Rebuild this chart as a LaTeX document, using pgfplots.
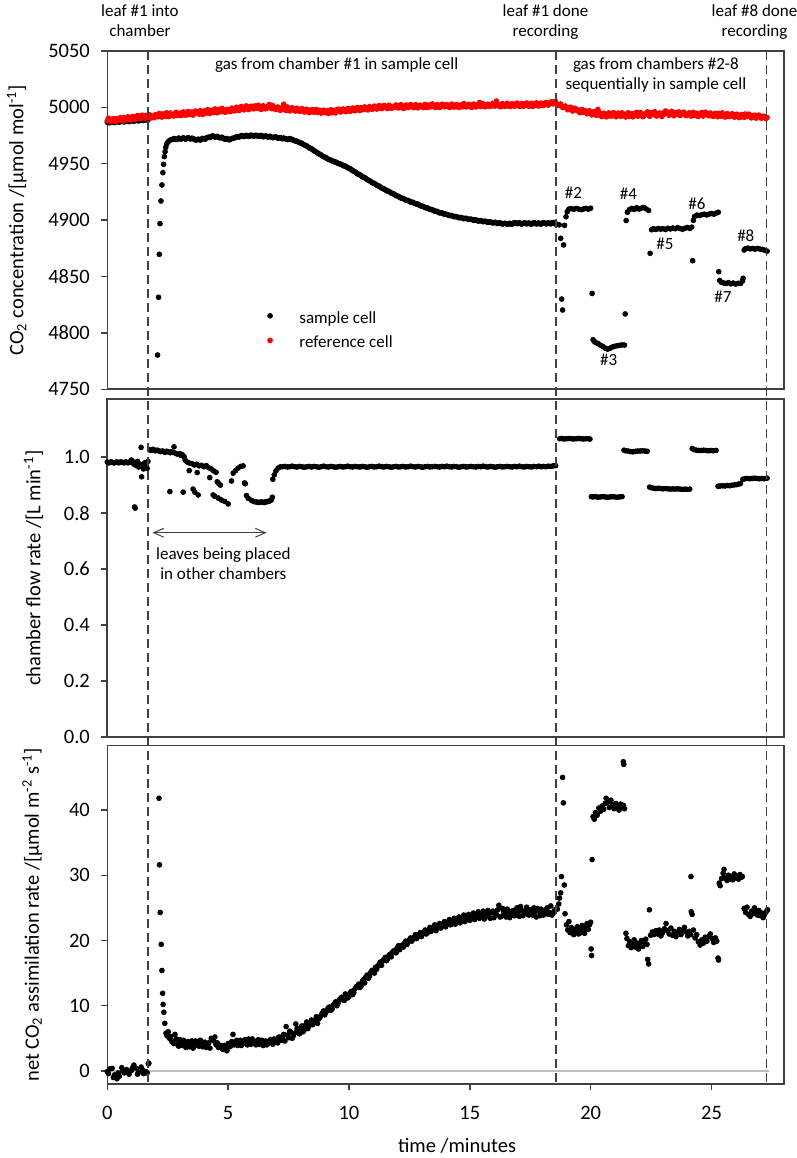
\documentclass[border=0pt]{standalone}
\usepackage{fontspec}
\setmainfont{Carlito}
\usepackage{pgfplots}
\usepackage{pgfplotstable}
\pgfplotsset{compat=1.18}
\usetikzlibrary{arrows.meta,calc}
\definecolor{axgray}{RGB}{64,64,64}
\definecolor{refred}{RGB}{255,0,0}
\newcommand{\axfont}{\fontsize{10.25}{12}\selectfont}
\newcommand{\anfont}{\fontsize{8.5}{10}\selectfont}

% reference cell CO2
\pgfplotstableread[row sep=\\]{t v\\
0.0 4988.2\\0.1 4989.6\\0.2 4987.9\\0.3 4988.8\\0.4 4990.1\\0.5 4988.6\\0.6 4989.3\\0.7 4990.8\\0.8 4989.0\\0.9 4990.4\\
1.0 4989.6\\1.1 4991.5\\1.2 4990.2\\1.3 4992.3\\1.4 4990.8\\1.5 4991.1\\1.6 4992.9\\1.7 4991.0\\1.8 4990.6\\1.9 4992.4\\
2.0 4993.5\\2.1 4991.7\\2.2 4992.6\\2.3 4994.2\\2.4 4992.0\\2.5 4993.4\\2.6 4995.0\\2.7 4993.1\\2.8 4994.6\\2.9 4992.8\\
3.0 4994.9\\3.1 4993.3\\3.2 4995.6\\3.3 4994.1\\3.4 4993.6\\3.5 4995.9\\3.6 4994.5\\3.7 4996.2\\3.8 4994.0\\3.9 4995.4\\
4.0 4996.8\\4.1 4994.9\\4.2 4996.0\\4.3 4997.4\\4.4 4995.5\\4.5 4996.6\\4.6 4998.2\\4.7 4996.1\\4.8 4997.0\\4.9 4995.8\\
5.0 4997.9\\5.1 4996.4\\5.2 4998.6\\5.3 4997.3\\5.4 4999.4\\5.5 4998.0\\5.6 4999.8\\5.7 4998.4\\5.8 5000.6\\5.9 4998.9\\
6.0 5000.2\\6.1 5001.3\\6.2 4999.1\\6.3 5000.8\\6.4 4998.6\\6.5 5000.1\\6.6 4999.3\\6.7 5002.6\\6.8 4998.9\\6.9 4999.8\\
7.0 4998.4\\7.1 4999.6\\7.2 4997.9\\7.3 5002.8\\7.4 4997.2\\7.5 4999.1\\7.6 4997.7\\7.7 4998.5\\7.8 4996.8\\7.9 4998.0\\
8.0 4996.9\\8.1 4998.3\\8.2 4996.4\\8.3 4997.5\\8.4 4995.8\\8.5 4997.9\\8.6 4996.2\\8.7 4995.5\\8.8 4997.3\\8.9 4996.0\\
9.0 4995.4\\9.1 4997.0\\9.2 4996.3\\9.3 4995.2\\9.4 4997.6\\9.5 4996.5\\9.6 4998.1\\9.7 4996.9\\9.8 4997.8\\9.9 4996.4\\
10.0 4998.6\\10.1 4997.1\\10.2 4999.0\\10.3 4997.8\\10.4 4998.3\\10.5 4999.7\\10.6 4998.0\\10.7 4999.3\\10.8 4997.9\\10.9 4999.9\\
11.0 4998.7\\11.1 5000.4\\11.2 4999.1\\11.3 5001.0\\11.4 4999.6\\11.5 5000.3\\11.6 4998.9\\11.7 5000.9\\11.8 4999.8\\11.9 5001.2\\
12.0 4999.8\\12.1 5001.5\\12.2 5000.2\\12.3 4999.5\\12.4 5001.8\\12.5 5000.6\\12.6 5001.1\\12.7 4999.9\\12.8 5002.0\\12.9 5000.4\\
13.0 5001.3\\13.1 4999.9\\13.2 5000.8\\13.3 5002.1\\13.4 5000.5\\13.5 5001.6\\13.6 5000.0\\13.7 5001.9\\13.8 5000.7\\13.9 5002.3\\
14.0 5000.9\\14.1 5001.7\\14.2 5000.2\\14.3 5002.0\\14.4 5001.1\\14.5 5000.4\\14.6 5001.8\\14.7 5000.6\\14.8 5002.4\\14.9 5001.0\\
15.0 5001.6\\15.1 5000.3\\15.2 5002.2\\15.3 5001.0\\15.4 5004.3\\15.5 5001.5\\15.6 5000.7\\15.7 5002.1\\15.8 5001.2\\15.9 5002.6\\
16.0 5001.4\\16.1 5005.6\\16.2 5002.0\\16.3 5000.9\\16.4 5002.5\\16.5 5001.3\\16.6 5002.8\\16.7 5001.0\\16.8 5002.2\\16.9 5003.1\\
17.0 5001.5\\17.1 5002.7\\17.2 5001.0\\17.3 5003.0\\17.4 5001.8\\17.5 5002.4\\17.6 5000.9\\17.7 5002.9\\17.8 5001.6\\17.9 5003.4\\
18.0 5002.1\\18.1 5003.6\\18.2 5002.4\\18.3 5004.0\\18.4 5005.0\\18.5 5004.5\\18.6 5002.6\\18.7 5001.8\\18.8 5001.0\\18.9 5000.2\\
19.0 4999.5\\19.1 4998.6\\19.2 4999.9\\19.3 4997.4\\19.4 4998.0\\19.5 4996.5\\19.6 4997.6\\19.7 4995.7\\19.8 4996.9\\19.9 4995.1\\
20.0 4994.6\\20.1 4995.8\\20.2 4993.4\\20.3 4998.2\\20.4 4994.2\\20.5 4992.6\\20.6 4993.9\\20.7 4992.1\\20.8 4994.5\\20.9 4993.0\\
21.0 4994.0\\21.1 4992.4\\21.2 4993.6\\21.3 4995.1\\21.4 4992.8\\21.5 4993.9\\21.6 4992.0\\21.7 4994.3\\21.8 4993.2\\21.9 4995.6\\
22.0 4993.4\\22.1 4994.6\\22.2 4992.5\\22.3 4994.9\\22.4 4993.0\\22.5 4995.3\\22.6 4993.8\\22.7 4992.7\\22.8 4994.4\\22.9 4993.1\\
23.0 4995.0\\23.1 4996.8\\23.2 4994.8\\23.3 4995.2\\23.4 4993.9\\23.5 4995.4\\23.6 4994.1\\23.7 4992.9\\23.8 4995.2\\23.9 4994.0\\
24.0 4993.5\\24.1 4995.1\\24.2 4994.2\\24.3 4992.8\\24.4 4994.7\\24.5 4993.2\\24.6 4995.5\\24.7 4993.7\\24.8 4994.4\\24.9 4992.6\\
25.0 4994.0\\25.1 4992.5\\25.2 4993.6\\25.3 4994.8\\25.4 4992.2\\25.5 4993.4\\25.6 4991.8\\25.7 4993.9\\25.8 4992.6\\25.9 4993.7\\
26.0 4992.1\\26.1 4993.3\\26.2 4991.6\\26.3 4992.9\\26.4 4994.1\\26.5 4991.9\\26.6 4992.7\\26.7 4991.3\\26.8 4993.0\\26.9 4991.8\\
27.0 4992.4\\27.1 4990.8\\27.2 4991.6\\27.3 4991.0\\
0.05 4990.3\\0.15 4987.4\\0.25 4989.9\\0.35 4987.6\\0.45 4989.2\\0.55 4991.0\\0.65 4988.1\\0.75 4989.7\\0.85 4991.6\\0.95 4988.8\\
1.05 4991.9\\1.15 4989.4\\1.25 4992.7\\1.35 4990.0\\1.45 4993.1\\1.55 4990.3\\1.65 4991.8\\1.75 4993.4\\1.85 4991.2\\1.95 4990.9\\
2.05 4992.2\\2.15 4994.6\\2.25 4991.4\\2.35 4993.0\\2.45 4995.2\\2.55 4991.9\\2.65 4993.8\\2.75 4992.4\\2.85 4995.6\\2.95 4993.7\\
3.05 4992.8\\3.15 4995.9\\3.25 4993.0\\3.35 4996.3\\3.45 4994.8\\3.55 4993.2\\3.65 4996.7\\3.75 4994.6\\3.85 4997.0\\3.95 4993.8\\
4.05 4995.6\\4.15 4998.0\\4.25 4994.6\\4.35 4996.3\\4.45 4998.6\\4.55 4995.2\\4.65 4997.3\\4.75 4999.1\\4.85 4995.9\\4.95 4998.2\\
5.05 4996.5\\5.15 4999.3\\5.25 4996.9\\5.35 5000.1\\5.45 4997.2\\5.55 5000.8\\5.65 4997.8\\5.75 5001.3\\5.85 4998.1\\5.95 5001.0\\
6.05 4998.7\\6.15 5000.5\\6.25 5001.9\\6.35 4998.3\\6.45 5001.4\\6.55 4998.8\\6.65 5000.9\\6.75 4999.6\\6.85 5001.5\\6.95 4998.3\\
7.05 5000.3\\7.15 4997.4\\7.25 4999.8\\7.35 4998.1\\7.45 5000.4\\7.55 4996.9\\7.65 4999.6\\7.75 4997.1\\7.85 4999.2\\7.95 4996.5\\
8.05 4998.9\\8.15 4995.9\\8.25 4998.4\\8.35 4995.3\\8.45 4997.8\\8.55 4995.7\\8.65 4998.1\\8.75 4996.9\\8.85 4994.9\\8.95 4997.5\\
9.05 4996.1\\9.15 4994.6\\9.25 4997.9\\9.35 4996.7\\9.45 4995.1\\9.55 4998.4\\9.65 4995.9\\9.75 4998.6\\9.85 4996.2\\9.95 4998.9\\
10.05 4996.6\\10.15 4999.4\\10.25 4997.0\\10.35 4999.9\\10.45 4997.2\\10.55 4998.8\\10.65 5000.4\\10.75 4997.9\\10.85 5000.6\\10.95 4998.4\\
11.05 5001.1\\11.15 4998.5\\11.25 5001.6\\11.35 4998.9\\11.45 5001.7\\11.55 4999.4\\11.65 5001.9\\11.75 4999.2\\11.85 5000.5\\11.95 5002.1\\
12.05 4999.6\\12.15 5002.4\\12.25 4999.1\\12.35 5002.0\\12.45 4999.9\\12.55 5002.5\\12.65 5000.0\\12.75 5002.3\\12.85 4999.6\\12.95 5001.9\\
13.05 5000.2\\13.15 5002.6\\13.25 4999.8\\13.35 5001.5\\13.45 5003.0\\13.55 5000.1\\13.65 5002.4\\13.75 4999.9\\13.85 5002.8\\13.95 5000.6\\
14.05 5002.5\\14.15 5000.0\\14.25 5002.9\\14.35 5000.3\\14.45 5002.6\\14.55 4999.9\\14.65 5002.2\\14.75 5003.3\\14.85 5000.5\\14.95 5002.7\\
15.05 5000.1\\15.15 5002.9\\15.25 5000.4\\15.35 5002.6\\15.45 5000.8\\15.55 5003.2\\15.65 5000.6\\15.75 5002.8\\15.85 5000.9\\15.95 5003.5\\
16.05 5001.2\\16.15 5003.0\\16.25 5000.6\\16.35 5003.4\\16.45 5001.0\\16.55 5003.6\\16.65 5000.8\\16.75 5003.3\\16.85 5001.1\\16.95 5003.8\\
17.05 5000.9\\17.15 5003.5\\17.25 5001.3\\17.35 5003.9\\17.45 5001.0\\17.55 5003.6\\17.65 5001.5\\17.75 5004.0\\17.85 5001.2\\17.95 5003.7\\
18.05 5001.8\\18.15 5004.3\\18.25 5002.0\\18.35 5004.6\\18.45 5003.1\\18.55 5005.2\\18.65 5001.9\\18.75 5003.0\\18.85 4999.8\\18.95 5001.2\\
19.05 4997.9\\19.15 5000.1\\19.25 4996.8\\19.35 4999.2\\19.45 4997.9\\19.55 4995.3\\19.65 4998.0\\19.75 4996.2\\19.85 4994.4\\19.95 4997.0\\
20.05 4993.3\\20.15 4996.2\\20.25 4992.9\\20.35 4995.6\\20.45 4991.9\\20.55 4994.8\\20.65 4991.6\\20.75 4995.1\\20.85 4992.3\\20.95 4995.4\\
21.05 4991.7\\21.15 4994.9\\21.25 4992.0\\21.35 4994.3\\21.45 4991.5\\21.55 4995.2\\21.65 4993.0\\21.75 4991.6\\21.85 4994.8\\21.95 4992.2\\
22.05 4995.5\\22.15 4991.8\\22.25 4993.9\\22.35 4996.0\\22.45 4992.1\\22.55 4994.2\\22.65 4996.1\\22.75 4992.4\\22.85 4995.0\\22.95 4992.0\\
23.05 4994.1\\23.15 4995.9\\23.25 4993.0\\23.35 4996.5\\23.45 4992.6\\23.55 4994.9\\23.65 4996.0\\23.75 4993.4\\23.85 4995.8\\23.95 4992.7\\
24.05 4994.9\\24.15 4992.3\\24.25 4995.6\\24.35 4993.5\\24.45 4991.9\\24.55 4994.4\\24.65 4992.3\\24.75 4995.7\\24.85 4993.1\\24.95 4995.0\\
25.05 4992.1\\25.15 4994.6\\25.25 4991.7\\25.35 4993.9\\25.45 4995.1\\25.55 4991.5\\25.65 4994.4\\25.75 4991.8\\25.85 4994.3\\25.95 4991.3\\
26.05 4993.9\\26.15 4990.9\\26.25 4993.6\\26.35 4991.1\\26.45 4992.6\\26.55 4994.0\\26.65 4990.7\\26.75 4992.9\\26.85 4990.5\\26.95 4993.1\\
27.05 4990.6\\27.15 4992.2\\27.25 4990.1\\
}\refcell

% sample cell CO2
\pgfplotstableread[row sep=\\]{t v\\
0.0 4986.8\\0.1 4986.3\\0.2 4987.0\\0.3 4986.5\\0.4 4987.2\\0.5 4986.9\\0.6 4987.5\\0.7 4987.1\\0.8 4987.8\\0.9 4987.4\\
1.0 4988.0\\1.1 4987.7\\1.2 4988.3\\1.3 4988.0\\1.4 4988.6\\1.5 4988.4\\1.6 4989.0\\1.68 4988.7\\
2.08 4780.4\\2.12 4831.6\\2.15 4869.7\\2.18 4896.9\\2.22 4917.0\\2.26 4931.2\\2.30 4942.1\\2.33 4949.5\\2.36 4956.3\\2.39 4960.7\\
2.42 4964.5\\2.46 4967.5\\2.51 4969.3\\2.56 4970.4\\2.62 4971.2\\2.7 4971.6\\
2.8 4972.0\\2.9 4971.8\\3.0 4972.3\\3.1 4972.5\\3.2 4972.2\\3.3 4972.6\\3.4 4972.4\\3.5 4972.7\\3.6 4971.8\\3.7 4971.2\\
3.8 4971.5\\3.9 4972.0\\4.0 4972.3\\4.1 4972.9\\4.2 4973.6\\4.3 4974.1\\4.4 4974.3\\4.5 4973.9\\4.6 4973.6\\4.7 4973.2\\
4.8 4972.5\\4.9 4972.0\\5.0 4971.6\\5.1 4971.9\\5.2 4972.6\\5.3 4973.4\\5.4 4974.0\\5.5 4974.4\\5.6 4974.7\\5.7 4974.5\\
5.8 4974.8\\5.9 4974.6\\6.0 4975.0\\6.1 4974.7\\6.2 4974.9\\6.3 4974.5\\6.4 4974.8\\6.5 4974.3\\6.6 4974.1\\6.7 4974.4\\
6.8 4973.6\\6.9 4973.3\\7.0 4973.5\\7.1 4972.9\\7.2 4972.6\\7.3 4972.8\\7.4 4972.1\\7.5 4971.7\\7.6 4972.0\\7.7 4971.0\\
7.8 4970.2\\7.9 4969.4\\8.0 4968.5\\8.1 4967.4\\8.2 4966.3\\8.3 4965.0\\8.4 4963.8\\8.5 4962.4\\8.6 4961.0\\8.7 4959.6\\
8.8 4958.3\\8.9 4957.0\\9.0 4955.9\\9.1 4954.6\\9.2 4953.5\\9.3 4952.6\\9.4 4951.8\\9.5 4951.0\\9.6 4950.0\\9.7 4949.2\\
9.8 4948.1\\9.9 4947.2\\10.0 4946.0\\10.1 4944.8\\10.2 4943.4\\10.3 4942.0\\10.4 4940.6\\10.5 4939.5\\10.6 4938.0\\10.7 4936.9\\
10.8 4935.5\\10.9 4934.2\\11.0 4932.9\\11.1 4931.8\\11.2 4930.5\\11.3 4929.4\\11.4 4928.0\\11.5 4927.0\\11.6 4925.8\\11.7 4924.9\\
11.8 4923.6\\11.9 4922.5\\12.0 4921.4\\12.1 4920.3\\12.2 4919.5\\12.3 4918.4\\12.4 4917.6\\12.5 4916.7\\12.6 4916.0\\12.7 4915.1\\
12.8 4914.4\\12.9 4913.5\\13.0 4912.6\\13.1 4911.8\\13.2 4911.0\\13.3 4910.1\\13.4 4909.4\\13.5 4908.5\\13.6 4907.9\\13.7 4907.0\\
13.8 4906.6\\13.9 4905.8\\14.0 4905.3\\14.1 4904.6\\14.2 4904.2\\14.3 4903.5\\14.4 4903.2\\14.5 4902.6\\14.6 4902.3\\14.7 4901.8\\
14.8 4901.6\\14.9 4901.1\\15.0 4900.8\\15.1 4900.4\\15.2 4900.2\\15.3 4899.7\\15.4 4899.5\\15.5 4899.1\\15.6 4899.0\\15.7 4898.5\\
15.8 4898.4\\15.9 4898.0\\16.0 4897.8\\16.1 4897.5\\16.2 4897.3\\16.3 4897.0\\16.4 4896.8\\16.5 4896.9\\16.6 4896.5\\16.7 4896.7\\
16.8 4897.3\\16.9 4897.6\\17.0 4897.2\\17.1 4896.8\\17.2 4897.1\\17.3 4897.5\\17.4 4897.0\\17.5 4896.7\\17.6 4897.2\\17.7 4897.4\\
17.8 4897.0\\17.9 4896.8\\18.0 4897.3\\18.1 4897.5\\18.2 4896.9\\18.3 4897.2\\18.4 4897.6\\18.5 4897.0\\18.6 4896.5\\18.7 4895.8\\
2.75 4972.4\\2.85 4971.5\\2.95 4972.8\\3.05 4971.9\\3.15 4973.0\\3.25 4971.8\\3.35 4973.1\\3.45 4972.0\\3.55 4972.3\\3.65 4971.1\\
3.75 4971.8\\3.85 4971.0\\3.95 4972.5\\4.05 4971.8\\4.15 4973.4\\4.25 4973.2\\4.35 4974.7\\4.45 4973.7\\4.55 4974.3\\4.65 4973.0\\
4.75 4973.5\\4.85 4971.9\\4.95 4972.4\\5.05 4971.2\\5.15 4972.4\\5.25 4972.8\\5.35 4974.0\\5.45 4973.7\\5.55 4975.0\\5.65 4974.2\\
5.75 4975.2\\5.85 4974.3\\5.95 4975.4\\6.05 4974.5\\6.15 4975.3\\6.25 4974.4\\6.35 4975.2\\6.45 4973.9\\6.55 4974.7\\6.65 4973.7\\
6.75 4974.0\\6.85 4973.1\\6.95 4973.9\\7.05 4972.7\\7.15 4973.2\\7.25 4972.2\\7.35 4972.3\\7.45 4971.5\\7.55 4972.3\\7.65 4971.3\\
7.75 4970.4\\7.85 4969.9\\7.95 4968.8\\8.05 4968.1\\8.15 4966.7\\8.25 4965.8\\8.35 4964.2\\8.45 4963.3\\8.55 4961.6\\8.65 4960.4\\
8.75 4958.9\\8.85 4957.8\\8.95 4956.3\\9.05 4955.4\\9.15 4953.9\\9.25 4953.2\\9.35 4952.0\\9.45 4951.5\\9.55 4950.3\\9.65 4949.7\\
9.75 4948.4\\9.85 4947.9\\9.95 4946.4\\10.05 4945.6\\10.15 4943.9\\10.25 4942.9\\10.35 4941.1\\10.45 4940.3\\10.55 4938.5\\10.65 4937.7\\
10.75 4936.0\\10.85 4935.0\\10.95 4933.4\\11.05 4932.6\\11.15 4930.9\\11.25 4930.2\\11.35 4928.5\\11.45 4927.7\\11.55 4926.2\\11.65 4925.6\\
11.75 4924.0\\11.85 4923.3\\11.95 4921.8\\12.05 4921.1\\12.15 4919.6\\12.25 4919.2\\12.35 4917.8\\12.45 4917.4\\12.55 4916.0\\12.65 4915.8\\
12.75 4914.5\\12.85 4914.2\\12.95 4912.8\\13.05 4912.4\\13.15 4911.1\\13.25 4910.8\\13.35 4909.5\\13.45 4909.2\\13.55 4907.9\\13.65 4907.7\\
13.75 4906.4\\13.85 4906.4\\13.95 4905.2\\14.05 4905.1\\14.15 4904.0\\14.25 4904.1\\14.35 4903.0\\14.45 4903.1\\14.55 4902.1\\14.65 4902.3\\
14.75 4901.3\\14.85 4901.6\\14.95 4900.6\\15.05 4900.9\\15.15 4899.9\\15.25 4900.2\\15.35 4899.2\\15.45 4899.6\\15.55 4898.6\\15.65 4899.0\\
15.75 4898.0\\15.85 4898.5\\15.95 4897.5\\16.05 4898.1\\16.15 4897.1\\16.25 4897.7\\16.35 4896.6\\16.45 4897.3\\16.55 4896.3\\16.65 4897.2\\
16.75 4896.4\\16.85 4897.8\\16.95 4896.9\\17.05 4897.7\\17.15 4896.5\\17.25 4897.6\\17.35 4896.7\\17.45 4897.5\\17.55 4896.4\\17.65 4897.8\\
17.75 4896.6\\17.85 4897.5\\17.95 4896.5\\18.05 4897.8\\18.15 4896.8\\18.25 4897.6\\18.35 4896.7\\18.45 4897.9\\18.55 4896.6\\
18.76 4883.9\\18.8 4830.0\\18.84 4820.3\\18.88 4878.0\\18.92 4895.4\\18.98 4903.0\\19.03 4907.5\\19.1 4909.8\\
19.2 4910.2\\19.3 4909.6\\19.4 4910.4\\19.5 4909.8\\19.6 4909.3\\19.7 4909.9\\19.8 4910.5\\19.9 4909.7\\20.0 4910.6\\
20.06 4835.0\\20.1 4794.0\\20.15 4792.5\\20.2 4791.6\\20.3 4790.6\\20.4 4789.2\\20.5 4788.0\\20.6 4786.5\\20.7 4785.6\\
20.8 4786.4\\20.9 4787.5\\21.0 4788.2\\21.1 4788.6\\21.2 4789.0\\21.3 4789.4\\21.4 4789.2\\
21.43 4816.8\\21.47 4899.6\\21.52 4907.0\\21.6 4909.3\\21.7 4910.4\\21.8 4909.5\\21.9 4911.0\\22.0 4909.8\\22.1 4910.6\\
22.2 4911.2\\22.3 4909.9\\22.4 4908.6\\
22.46 4870.6\\22.52 4891.5\\22.6 4892.4\\22.7 4891.8\\22.8 4892.6\\22.9 4892.0\\23.0 4892.5\\23.1 4891.7\\23.2 4892.8\\
23.3 4892.2\\23.4 4893.0\\23.5 4892.4\\23.6 4893.4\\23.7 4892.6\\23.8 4891.9\\23.9 4892.8\\24.0 4893.5\\24.1 4892.7\\24.18 4893.8\\
24.22 4864.0\\24.25 4899.8\\24.3 4903.2\\24.4 4904.5\\24.5 4904.0\\24.6 4904.8\\24.7 4905.3\\24.8 4904.6\\24.9 4905.4\\
25.0 4905.9\\25.1 4905.3\\25.2 4906.3\\25.28 4907.0\\
25.3 4854.3\\25.34 4846.5\\25.4 4845.0\\25.5 4844.3\\25.6 4843.8\\25.7 4844.6\\25.8 4843.5\\25.9 4844.2\\26.0 4843.3\\
26.1 4844.0\\26.2 4843.8\\26.28 4846.0\\26.31 4848.4\\
26.35 4873.5\\26.4 4874.6\\26.5 4875.2\\26.6 4874.5\\26.7 4874.9\\26.8 4874.3\\26.9 4875.0\\27.0 4874.4\\27.1 4874.0\\
27.2 4873.3\\27.3 4872.5\\
}\sample

% chamber flow rate
\pgfplotstableread[row sep=\\]{t v\\
0.0 0.983\\0.1 0.981\\0.2 0.982\\0.3 0.980\\0.4 0.983\\0.5 0.981\\0.6 0.982\\0.7 0.980\\0.8 0.982\\0.9 0.981\\
0.05 0.980\\0.15 0.983\\0.25 0.980\\0.35 0.982\\0.45 0.980\\0.55 0.983\\0.65 0.981\\0.75 0.983\\0.85 0.980\\0.95 0.984\\
1.0 0.990\\1.05 0.985\\1.1 0.975\\1.13 0.822\\1.16 0.818\\1.2 0.970\\1.25 0.985\\1.3 0.965\\1.35 0.975\\1.4 1.035\\
1.42 0.930\\1.45 0.970\\1.5 0.958\\1.55 0.980\\1.6 0.972\\1.65 0.960\\1.68 0.985\\
1.75 1.026\\1.85 1.027\\1.95 1.024\\2.05 1.025\\2.15 1.022\\2.25 1.021\\2.35 1.019\\2.45 1.021\\2.55 1.018\\2.59 0.877\\
1.8 1.024\\1.9 1.028\\2.0 1.023\\2.1 1.024\\2.2 1.020\\2.3 1.022\\2.4 1.018\\2.5 1.020\\2.6 1.016\\2.7 1.017\\
2.65 1.019\\2.76 1.037\\2.8 1.015\\2.9 1.011\\3.0 1.013\\3.05 1.006\\3.1 1.009\\3.14 0.875\\3.18 1.002\\3.22 0.990\\
3.3 0.983\\3.39 0.952\\3.4 0.979\\3.5 0.977\\3.55 0.886\\3.6 0.972\\3.62 0.875\\3.7 0.975\\3.72 0.945\\3.76 0.865\\
3.8 0.969\\3.9 0.971\\4.0 0.966\\4.1 0.970\\4.2 0.962\\4.24 0.927\\4.3 0.958\\4.38 0.865\\4.4 0.951\\4.45 0.860\\
4.5 0.946\\4.55 0.912\\4.59 0.854\\4.62 0.905\\4.68 0.900\\4.72 0.847\\4.86 0.842\\5.0 0.833\\5.14 0.915\\5.21 0.943\\
5.31 0.952\\5.41 0.961\\5.52 0.967\\5.62 0.969\\5.68 0.908\\5.71 0.905\\5.76 0.863\\5.83 0.853\\5.96 0.846\\6.05 0.842\\
6.17 0.840\\6.3 0.839\\6.45 0.839\\6.55 0.840\\6.65 0.842\\6.75 0.845\\6.79 0.848\\6.83 0.857\\6.85 0.921\\6.91 0.937\\
6.1 0.841\\6.24 0.838\\6.38 0.840\\6.5 0.838\\6.6 0.841\\6.7 0.843\\
6.98 0.951\\7.07 0.961\\7.15 0.965\\
7.25 0.966\\7.35 0.967\\7.45 0.965\\7.55 0.966\\7.65 0.968\\7.75 0.966\\7.85 0.965\\7.95 0.967\\8.05 0.966\\8.15 0.964\\
8.25 0.966\\8.35 0.967\\8.45 0.965\\8.55 0.967\\8.65 0.966\\8.75 0.964\\8.85 0.966\\8.95 0.968\\9.05 0.966\\9.15 0.965\\
9.25 0.967\\9.35 0.966\\9.45 0.964\\9.55 0.966\\9.65 0.967\\9.75 0.965\\9.85 0.966\\9.95 0.968\\10.05 0.966\\10.15 0.965\\
10.25 0.967\\10.35 0.966\\10.45 0.965\\10.55 0.967\\10.65 0.966\\10.75 0.964\\10.85 0.966\\10.95 0.967\\11.05 0.965\\11.15 0.966\\
11.25 0.968\\11.35 0.966\\11.45 0.965\\11.55 0.967\\11.65 0.966\\11.75 0.964\\11.85 0.966\\11.95 0.967\\12.05 0.965\\12.15 0.966\\
12.25 0.967\\12.35 0.965\\12.45 0.966\\12.55 0.968\\12.65 0.966\\12.75 0.965\\12.85 0.967\\12.95 0.966\\13.05 0.964\\13.15 0.966\\
13.25 0.967\\13.35 0.965\\13.45 0.966\\13.55 0.967\\13.65 0.966\\13.75 0.965\\13.85 0.967\\13.95 0.966\\14.05 0.968\\14.15 0.966\\
14.25 0.965\\14.35 0.967\\14.45 0.966\\14.55 0.964\\14.65 0.966\\14.75 0.967\\14.85 0.965\\14.95 0.966\\15.05 0.967\\15.15 0.966\\
15.25 0.965\\15.35 0.967\\15.45 0.966\\15.55 0.968\\15.65 0.966\\15.75 0.965\\15.85 0.967\\15.95 0.966\\16.05 0.964\\16.15 0.966\\
16.25 0.967\\16.35 0.965\\16.45 0.966\\16.55 0.967\\16.65 0.966\\16.75 0.965\\16.85 0.967\\16.95 0.966\\17.05 0.968\\17.15 0.966\\
17.25 0.965\\17.35 0.967\\17.45 0.966\\17.55 0.965\\17.65 0.967\\17.75 0.966\\17.85 0.968\\17.95 0.966\\18.05 0.967\\18.15 0.966\\
18.25 0.968\\18.35 0.967\\18.45 0.969\\18.55 0.970\\
18.72 1.066\\18.8 1.067\\18.9 1.065\\19.0 1.066\\19.1 1.067\\19.2 1.066\\19.3 1.065\\19.4 1.066\\19.5 1.067\\19.6 1.066\\
19.7 1.065\\19.8 1.066\\19.9 1.066\\19.97 1.065\\
20.03 0.859\\20.1 0.858\\20.2 0.859\\20.3 0.857\\20.4 0.858\\20.5 0.859\\20.6 0.858\\20.7 0.857\\20.8 0.858\\20.9 0.859\\
21.0 0.858\\21.1 0.857\\21.2 0.858\\21.3 0.859\\
21.38 1.025\\21.45 1.023\\21.55 1.022\\21.65 1.020\\21.75 1.019\\21.85 1.021\\21.95 1.022\\22.05 1.022\\22.15 1.023\\22.25 1.022\\22.34 1.021\\
22.44 0.893\\22.5 0.891\\22.6 0.889\\22.7 0.888\\22.8 0.889\\22.9 0.888\\23.0 0.887\\23.1 0.888\\23.2 0.887\\23.3 0.886\\
23.4 0.887\\23.5 0.886\\23.6 0.887\\23.7 0.886\\23.8 0.885\\23.9 0.886\\24.0 0.885\\24.1 0.886\\
24.2 1.031\\24.28 1.027\\24.38 1.025\\24.48 1.024\\24.58 1.024\\24.68 1.025\\24.78 1.024\\24.88 1.023\\24.98 1.024\\25.08 1.023\\25.19 1.024\\
25.27 0.896\\25.35 0.897\\25.45 0.898\\25.55 0.897\\25.65 0.899\\25.75 0.898\\25.85 0.900\\25.95 0.901\\26.05 0.902\\26.13 0.904\\26.2 0.906\\
26.3 0.921\\26.38 0.923\\26.48 0.924\\26.58 0.923\\26.68 0.924\\26.78 0.925\\26.88 0.924\\26.98 0.923\\27.08 0.924\\27.18 0.923\\27.3 0.925\\
}\flow

% net CO2 assimilation rate
\pgfplotstableread[row sep=\\]{t v\\
0.0 -0.1\\0.1 0.3\\0.2 0.4\\0.3 -0.6\\0.4 -1.2\\0.5 -0.8\\0.6 0.5\\0.7 -0.3\\0.8 0.2\\0.9 -0.5\\
1.0 0.1\\1.1 0.9\\1.2 0.4\\1.3 -0.2\\1.4 0.6\\1.5 -0.4\\1.6 -0.1\\1.7 1.1\\1.72 1.2\\
0.05 -0.4\\0.25 -1.0\\0.45 -0.3\\0.65 0.0\\0.85 -0.2\\1.05 0.5\\1.25 -0.5\\1.45 0.2\\1.65 -0.3\\
2.14 41.8\\2.16 31.6\\2.19 24.3\\2.23 19.4\\2.26 15.4\\2.29 11.9\\2.31 10.2\\2.34 9.0\\2.38 7.3\\2.43 5.8\\
2.47 5.4\\2.52 6.0\\2.57 5.0\\2.62 5.3\\2.67 4.5\\
2.7 4.6\\2.8 5.6\\2.9 4.1\\3.0 4.8\\3.1 3.9\\3.2 4.5\\3.3 4.2\\3.4 3.7\\3.5 4.6\\3.6 4.0\\3.7 4.4\\3.8 3.8\\3.9 4.5\\
4.0 4.1\\4.1 3.6\\4.2 4.3\\4.3 5.0\\4.4 4.6\\4.5 4.0\\4.6 3.6\\4.7 3.9\\4.8 3.3\\4.9 3.6\\5.0 4.2\\5.1 3.8\\5.2 5.6\\
5.3 4.4\\5.4 3.9\\5.5 4.7\\5.6 4.2\\5.7 4.8\\5.8 4.0\\5.9 4.5\\6.0 4.9\\6.1 4.3\\6.2 4.6\\6.3 4.1\\6.4 4.7\\6.5 4.4\\
6.6 4.0\\6.7 4.6\\6.8 4.3\\6.9 4.9\\7.0 4.5\\7.1 5.2\\7.2 4.7\\7.3 5.6\\7.4 6.8\\7.5 5.1\\7.6 5.9\\7.7 5.4\\7.8 7.2\\
7.9 6.1\\8.0 6.6\\8.1 6.0\\8.2 7.0\\8.3 6.5\\8.4 7.4\\8.5 7.1\\8.6 7.8\\8.7 7.3\\8.8 8.2\\8.9 8.9\\9.0 8.6\\9.1 9.4\\
9.2 9.8\\9.3 9.5\\9.4 10.3\\9.5 10.0\\9.6 10.9\\9.7 11.3\\9.8 10.8\\9.9 11.6\\10.0 11.4\\10.1 12.2\\10.2 12.0\\10.3 12.9\\
10.4 13.3\\10.5 13.0\\10.6 14.0\\10.7 14.4\\10.8 14.2\\10.9 15.1\\11.0 15.4\\11.1 15.9\\11.2 16.1\\11.3 16.7\\11.4 16.9\\
11.5 17.4\\11.6 17.2\\11.7 17.9\\11.8 18.2\\11.9 18.5\\12.0 18.9\\12.1 18.6\\12.2 19.3\\12.3 19.6\\12.4 19.4\\12.5 20.1\\
12.6 19.9\\12.7 20.5\\12.8 20.3\\12.9 20.9\\13.0 20.6\\13.1 21.3\\13.2 21.0\\13.3 21.6\\13.4 21.4\\13.5 21.9\\13.6 21.5\\
13.7 22.3\\13.8 21.9\\13.9 22.6\\14.0 22.1\\14.1 22.8\\14.2 22.4\\14.3 23.0\\14.4 22.5\\14.5 23.2\\14.6 22.7\\14.7 23.4\\
14.8 22.9\\14.9 23.6\\15.0 23.1\\15.1 23.8\\15.2 23.2\\15.3 24.0\\15.4 23.4\\15.5 23.9\\15.6 23.3\\15.7 24.1\\15.8 23.6\\
15.9 24.3\\16.0 23.5\\16.1 24.0\\16.2 25.4\\16.3 23.7\\16.4 24.4\\16.5 23.6\\16.6 24.2\\16.7 23.8\\16.8 24.6\\16.9 23.9\\
17.0 24.3\\17.1 25.2\\17.2 23.8\\17.3 24.5\\17.4 24.0\\17.5 24.7\\17.6 23.9\\17.7 24.4\\17.8 24.9\\17.9 23.8\\18.0 24.5\\
18.1 24.1\\18.2 25.0\\18.3 24.3\\18.4 23.9\\18.5 24.6\\
2.75 4.2\\2.85 4.9\\2.95 3.8\\3.05 4.4\\3.15 4.7\\3.25 3.6\\3.35 4.5\\3.45 4.1\\3.55 3.5\\3.65 4.6\\3.75 3.9\\3.85 4.7\\
3.95 3.7\\4.05 4.4\\4.15 4.0\\4.25 3.5\\4.35 4.8\\4.45 5.2\\4.55 4.3\\4.65 3.8\\4.75 3.4\\4.85 3.9\\4.95 3.1\\5.05 3.7\\
5.15 4.5\\5.25 4.0\\5.35 4.7\\5.45 4.3\\5.55 3.9\\5.65 4.6\\5.75 4.2\\5.85 4.9\\5.95 4.1\\6.05 4.6\\6.15 4.0\\6.25 4.8\\
6.35 4.3\\6.45 3.9\\6.55 4.6\\6.65 4.2\\6.75 4.8\\6.85 4.1\\6.95 4.6\\7.05 4.3\\7.15 4.9\\7.25 5.3\\7.35 4.6\\7.45 5.5\\
7.55 6.1\\7.65 5.0\\7.75 5.8\\7.85 6.5\\7.95 5.7\\8.05 6.9\\8.15 6.3\\8.25 7.5\\8.35 6.9\\8.45 7.8\\8.55 7.4\\8.65 8.3\\
8.75 8.0\\8.85 8.6\\8.95 9.2\\9.05 9.0\\9.15 9.7\\9.25 9.3\\9.35 10.1\\9.45 10.6\\9.55 10.4\\9.65 11.1\\9.75 10.9\\9.85 11.8\\
9.95 11.2\\10.05 12.0\\10.15 11.7\\10.25 12.6\\10.35 13.0\\10.45 12.8\\10.55 13.7\\10.65 13.5\\10.75 14.7\\10.85 14.5\\10.95 15.4\\
11.05 15.0\\11.15 15.6\\11.25 16.4\\11.35 16.2\\11.45 17.1\\11.55 16.9\\11.65 17.7\\11.75 17.5\\11.85 18.4\\11.95 18.1\\12.05 19.2\\
12.15 19.0\\12.25 19.0\\12.35 19.9\\12.45 19.8\\12.55 20.4\\12.65 20.2\\12.75 20.9\\12.85 20.6\\12.95 21.2\\13.05 21.0\\13.15 21.6\\
13.25 21.2\\13.35 22.0\\13.45 21.7\\13.55 22.4\\13.65 21.9\\13.75 22.6\\13.85 22.2\\13.95 22.9\\14.05 22.5\\14.15 23.2\\14.25 22.6\\
14.35 23.4\\14.45 22.8\\14.55 23.6\\14.65 23.1\\14.75 23.9\\14.85 23.2\\14.95 24.0\\15.05 23.4\\15.15 24.2\\15.25 23.5\\15.35 24.4\\
15.45 23.7\\15.55 24.5\\15.65 23.9\\15.75 24.6\\15.85 23.4\\15.95 24.5\\16.05 24.1\\16.15 24.7\\16.25 23.6\\16.35 24.9\\16.45 23.9\\
16.55 24.8\\16.65 23.5\\16.75 24.5\\16.85 23.8\\16.95 25.0\\17.05 23.7\\17.15 24.6\\17.25 24.1\\17.35 25.1\\17.45 23.9\\17.55 24.3\\
17.65 25.0\\17.75 23.6\\17.85 24.5\\17.95 24.8\\18.05 23.9\\18.15 24.7\\18.25 24.0\\18.35 25.3\\18.45 24.2\\18.55 24.8\\
18.62 24.8\\18.68 25.6\\18.71 26.5\\18.76 27.3\\18.79 29.8\\18.84 45.0\\18.87 41.1\\18.91 28.5\\18.94 24.1\\
19.0 22.4\\19.05 21.6\\19.1 22.9\\19.15 21.2\\19.2 22.0\\19.25 21.4\\19.3 20.9\\19.35 21.7\\19.4 21.3\\19.45 22.1\\
19.5 21.0\\19.55 21.8\\19.6 21.2\\19.65 22.3\\19.7 21.5\\19.75 21.1\\19.8 21.9\\19.85 22.6\\19.9 21.7\\19.95 22.4\\20.0 22.8\\
20.02 18.7\\20.04 17.7\\20.06 32.4\\
20.1 39.0\\20.15 38.6\\20.2 39.6\\20.27 39.2\\20.34 40.3\\20.4 39.8\\20.47 40.6\\20.54 40.1\\20.6 41.0\\20.64 41.8\\
20.7 41.2\\20.77 40.4\\20.84 41.5\\20.9 40.8\\20.97 40.2\\21.04 41.0\\21.1 40.5\\21.17 40.0\\21.24 40.9\\21.3 40.4\\
21.36 40.7\\21.4 40.2\\21.35 47.4\\21.37 47.0\\
21.46 21.1\\21.5 20.3\\21.56 19.2\\21.62 19.8\\21.68 18.9\\21.74 19.5\\21.8 20.1\\21.86 19.0\\21.92 19.6\\21.98 18.7\\
22.04 19.3\\22.1 20.0\\22.16 19.1\\22.22 19.7\\22.28 20.2\\22.33 19.4\\
22.36 17.1\\22.4 16.4\\22.43 24.7\\
22.48 20.8\\22.55 21.3\\22.62 20.9\\22.7 21.5\\22.77 21.0\\22.84 21.6\\22.91 20.7\\22.98 21.2\\23.05 21.8\\23.12 22.6\\
23.18 21.5\\23.25 21.0\\23.32 21.9\\23.39 20.8\\23.46 21.4\\23.53 20.6\\23.6 21.2\\23.67 21.7\\23.74 20.9\\23.81 21.5\\
23.88 22.0\\23.95 21.3\\24.02 20.7\\24.09 21.4\\24.14 20.9\\
24.15 29.8\\24.16 24.4\\24.2 24.0\\
24.25 21.6\\24.32 20.4\\24.39 20.9\\24.46 19.8\\24.53 19.3\\24.6 20.1\\24.67 19.6\\24.74 20.5\\24.81 19.9\\24.88 20.6\\
24.95 21.0\\25.02 20.3\\25.09 19.7\\25.16 20.4\\25.22 19.9\\25.27 17.3\\25.29 17.0\\
25.32 28.8\\25.36 28.4\\25.42 29.5\\25.48 30.3\\25.52 30.9\\25.58 29.6\\25.64 29.2\\25.7 30.0\\25.76 29.4\\25.82 29.8\\
25.88 29.3\\25.94 30.2\\26.0 29.6\\26.06 29.9\\26.12 29.4\\26.18 30.1\\26.24 29.7\\26.28 29.8\\
26.35 24.9\\26.41 24.3\\26.47 25.1\\26.53 24.0\\26.6 23.7\\26.66 24.5\\26.72 24.1\\26.78 25.0\\26.84 24.4\\26.9 23.9\\
26.96 24.6\\27.02 23.8\\27.08 24.2\\27.14 23.5\\27.2 24.0\\27.26 24.4\\27.32 24.7\\
}\assim

\pgfplotsset{
  panel/.style={
    scale only axis, width=338.35pt, height=169.15pt,
    anchor=south west, xmin=0, xmax=28, clip=false,
    axis line style={draw=axgray, line width=0.8pt},
    every tick/.style={draw=axgray, line width=0.7pt},
    major tick length=3pt, tick align=outside, tick pos=left,
    tick label style={font=\axfont},
    /pgf/number format/assume math mode=true,
    yticklabel style={xshift=-2.2pt},
    xticklabel style={yshift=-4.6pt},
    every axis y label/.style={rotate=90, anchor=base, font=\axfont},
    every axis x label/.style={anchor=base, font=\axfont},
  },
  dots/.style={only marks, mark=*, mark size=1.2pt, color=#1, mark options={draw=none, fill=#1}},
}

\begin{document}
\begin{tikzpicture}
% ---------------- top panel ----------------
\begin{axis}[panel, at={(53.65pt,384.35pt)},
  ymin=4750, ymax=5050, ytick={4750,4800,4850,4900,4950,5000,5050},
  yticklabel style={/pgf/number format/1000 sep={}},
  xtick=\empty,
  ylabel={CO\textsubscript{2} concentration /[µmol mol\textsuperscript{-1}]},
  ylabel style={at={($(rel axis cs:0,0.5)+(-41.9pt,0pt)$)}},
  legend cell align=left,
  legend image code/.code={\draw[#1] plot coordinates {(0pt,1.5pt)}; \path[draw=none,fill=none] (0pt,0pt) -- (14.65pt,0pt);},
  legend style={at={(axis cs:6.636,4819.4)}, anchor=north west, draw=none, fill=none,
    inner sep=0pt, outer sep=0pt, row sep=4.5pt, font=\anfont,
    nodes={inner sep=0pt, text height=6pt, text depth=1.8pt}},
]
\addplot[dots=black] table[x=t,y=v] {\sample};
\addlegendentry{sample cell}
\addplot[dots=refred] table[x=t,y=v] {\refcell};
\addlegendentry{reference cell}
\coordinate (t1) at (axis cs:1.69,5050);
\coordinate (t2) at (axis cs:18.57,5050);
\coordinate (t3) at (axis cs:27.27,5050);
\node[anchor=base, font=\anfont] at (axis cs:1.35,5080.6) {leaf \#1 into};
\node[anchor=base, font=\anfont] at (axis cs:1.35,5062.7) {chamber};
\node[anchor=base, font=\anfont] at (axis cs:18.13,5080.6) {leaf \#1 done};
\node[anchor=base, font=\anfont] at (axis cs:18.13,5062.7) {recording};
\node[anchor=base, font=\anfont] at (axis cs:26.78,5080.6) {leaf \#8 done};
\node[anchor=base, font=\anfont] at (axis cs:26.78,5062.7) {recording};
\node[anchor=base, font=\anfont] at (axis cs:9.49,5034) {gas from chamber \#1 in sample cell};
\node[anchor=base, font=\anfont] at (axis cs:22.70,5034) {gas from chambers \#2-8};
\node[anchor=base, font=\anfont] at (axis cs:22.70,5016) {sequentially in sample cell};
\node[font=\anfont] at (axis cs:19.29,4924.5) {\#2};
\node[font=\anfont] at (axis cs:20.75,4776) {\#3};
\node[font=\anfont] at (axis cs:21.56,4923) {\#4};
\node[font=\anfont] at (axis cs:23.07,4879.3) {\#5};
\node[font=\anfont] at (axis cs:24.40,4914.8) {\#6};
\node[font=\anfont] at (axis cs:25.47,4831.9) {\#7};
\node[font=\anfont] at (axis cs:26.42,4886.4) {\#8};
\end{axis}

% ---------------- middle panel ----------------
\begin{axis}[panel, at={(53.65pt,210.5pt)}, height=169pt,
  ymin=0, ymax=1.208, ytick={0,0.2,0.4,0.6,0.8,1.0},
  yticklabel style={/pgf/number format/.cd, fixed, fixed zerofill, precision=1},
  xtick=\empty,
  ylabel={chamber flow rate /[L min\textsuperscript{-1}]},
  ylabel style={at={($(rel axis cs:0,0.5)+(-33.4pt,0pt)$)}},
]
\addplot[dots=black] table[x=t,y=v] {\flow};
\draw[axgray, line width=0.5pt, {Straight Barb[length=5pt,width=4.4pt]}-{Straight Barb[length=5pt,width=4.4pt]}]
  (axis cs:1.87,0.730) -- (axis cs:6.59,0.730);
\node[anchor=base, font=\anfont] at (axis cs:4.80,0.635) {leaves being placed};
\node[anchor=base, font=\anfont] at (axis cs:4.80,0.564) {in other chambers};
\end{axis}

% ---------------- bottom panel ----------------
\begin{axis}[panel, at={(53.65pt,37pt)},
  ymin=-2, ymax=49.86, ytick={0,10,20,30,40},
  xtick={0,5,10,15,20,25},
  ylabel={net CO\textsubscript{2} assimilation rate /[µmol m\textsuperscript{-2} s\textsuperscript{-1}]},
  ylabel style={at={($(rel axis cs:0,0.5)+(-34.2pt,0pt)$)}},
  xlabel={time /minutes},
  xlabel style={at={($(rel axis cs:0.5168,0)+(0pt,-34pt)$)}},
]
\addplot[forget plot, black!25, line width=0.6pt] coordinates {(0,0) (27.36,0)};
\addplot[dots=black] table[x=t,y=v] {\assim};
\coordinate (b1) at (axis cs:1.69,-2);
\coordinate (b2) at (axis cs:18.57,-2);
\coordinate (b3) at (axis cs:27.27,-2);
\end{axis}

\draw[axgray, line width=0.65pt, dash pattern=on 4.5pt off 2.5pt] (t1) -- (b1);
\draw[axgray, line width=0.65pt, dash pattern=on 4.5pt off 2.5pt] (t2) -- (b2);
\draw[axgray, line width=0.65pt, dash pattern=on 4.5pt off 2.5pt] (t3) -- (b3);

\pgfresetboundingbox
\useasboundingbox (0,0) rectangle (398.5pt,579pt);
\end{tikzpicture}
\end{document}
